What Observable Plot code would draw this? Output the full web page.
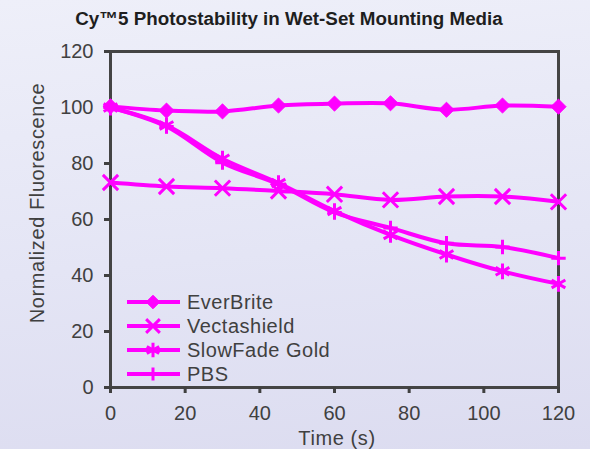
<!DOCTYPE html>
<html>
<head>
<meta charset="utf-8">
<script src="https://cdn.jsdelivr.net/npm/d3@7"></script>
<script src="https://cdn.jsdelivr.net/npm/@observablehq/plot@0.6"></script>
<style>
  html, body { margin: 0; padding: 0; }
  body { width: 590px; height: 449px; overflow: hidden; font-family: "Liberation Sans", Arial, sans-serif; }
  #wrap { position: relative; width: 590px; height: 449px;
    background: linear-gradient(175deg, #eeeff9 0%, #e4e5f5 55%, #dcdcf0 100%); }
  #chart { position: absolute; left: 0; top: 0; }
  .t { position: absolute; white-space: nowrap; color: #404040; }
  #title { left: 289px; top: 19px; transform: translate(-50%, -50%); font-weight: bold; font-size: 18.8px; color: #1e1e1e; }
  #ylab { left: 37px; top: 203px; transform: translate(-50%, -50%) rotate(-90deg); font-size: 20px; letter-spacing: 0.6px; }
  #xlab { left: 337px; top: 438px; transform: translate(-50%, -50%); font-size: 20px; letter-spacing: 0.6px; }
  #legend { position: absolute; left: 125px; top: 290px; }
  .row { display: flex; align-items: center; height: 24px; }
  .row span { font-size: 20px; color: #404040; margin-left: 4px; letter-spacing: 0.5px; }
</style>
</head>
<body>
<div id="wrap">
  <div id="chart"></div>
  <div class="t" id="title">Cy™5 Photostability in Wet-Set Mounting Media</div>
  <div class="t" id="ylab">Normalized Fluorescence</div>
  <div class="t" id="xlab">Time (s)</div>
  <div id="legend"></div>
</div>
<script>
// ---- data ----
const time = [0, 15, 30, 45, 60, 75, 90, 105, 120];
const seriesNames = ["EverBrite", "Vectashield", "SlowFade Gold", "PBS"];
const everbrite   = [100.4, 98.9, 98.6, 100.7, 101.4, 101.5, 99.2, 100.7, 100.3];
const vectashield = [73.2, 71.8, 71.2, 70.2, 69.0, 67.0, 68.2, 68.2, 66.3];
const slowfade    = [100.0, 93.6, 81.7, 73.0, 63.0, 54.5, 47.5, 41.5, 37.0];
const pbs         = [100.0, 93.2, 80.3, 72.6, 62.5, 57.0, 51.5, 50.2, 46.2];
const xTicks = [0, 20, 40, 60, 80, 100, 120];
const yTicks = [0, 20, 40, 60, 80, 100, 120];

const color = "#ff00ff";
const symbols = {"EverBrite": "diamond2", "Vectashield": "times", "SlowFade Gold": "asterisk", "PBS": "plus"};
const radii = {"EverBrite": 6.8, "Vectashield": 7, "SlowFade Gold": 7.5, "PBS": 4.7};

const valuesBySeries = [everbrite, vectashield, slowfade, pbs];
const data = [];
seriesNames.forEach((s, i) => {
  time.forEach((t, j) => data.push({series: s, time: t, value: valuesBySeries[i][j]}));
});

const marks = [
  Plot.frame({stroke: "#444", strokeWidth: 3}),
  Plot.axisX({ticks: xTicks, tickSize: 6, tickPadding: 12, fontSize: 20, label: null, strokeWidth: 3, anchor: "bottom"}),
  Plot.axisY({ticks: yTicks, tickSize: 6, tickPadding: 11, fontSize: 20, label: null, strokeWidth: 3, anchor: "left"}),
  Plot.line(data, {x: "time", y: "value", z: "series", stroke: color, strokeWidth: 4, curve: "catmull-rom"})
];
seriesNames.forEach(s => {
  const filled = s === "EverBrite";
  marks.push(Plot.dot(data.filter(d => d.series === s), {
    x: "time", y: "value", symbol: () => symbols[s], r: radii[s],
    fill: filled ? color : "none", stroke: color, strokeWidth: filled ? 1 : 3
  }));
});

const chart = Plot.plot({
  width: 590, height: 449,
  marginLeft: 110, marginRight: 32, marginTop: 51, marginBottom: 62,
  x: {domain: [0, 120]},
  y: {domain: [0, 120]},
  symbol: {type: "identity"},
  style: {background: "transparent", color: "#404040", fontFamily: "Liberation Sans, Arial, sans-serif", overflow: "visible"},
  marks
});
document.getElementById("chart").appendChild(chart);

// ---- legend ----
const legend = d3.select("#legend");
const d3sym = {"EverBrite": d3.symbolDiamond2, "Vectashield": d3.symbolTimes, "SlowFade Gold": d3.symbolAsterisk, "PBS": d3.symbolPlus};
seriesNames.forEach(s => {
  const row = legend.append("div").attr("class", "row");
  const svg = row.append("svg").attr("width", 58).attr("height", 24);
  svg.append("line").attr("x1", 2).attr("x2", 55).attr("y1", 12).attr("y2", 12)
    .attr("stroke", color).attr("stroke-width", 4);
  const filled = s === "EverBrite";
  svg.append("path").attr("transform", "translate(28,12)")
    .attr("d", d3.symbol(d3sym[s], Math.PI * Math.pow(radii[s] * 0.9, 2))())
    .attr("fill", filled ? color : "none").attr("stroke", color).attr("stroke-width", filled ? 1 : 3);
  row.append("span").text(s);
});
</script>
</body>
</html>
